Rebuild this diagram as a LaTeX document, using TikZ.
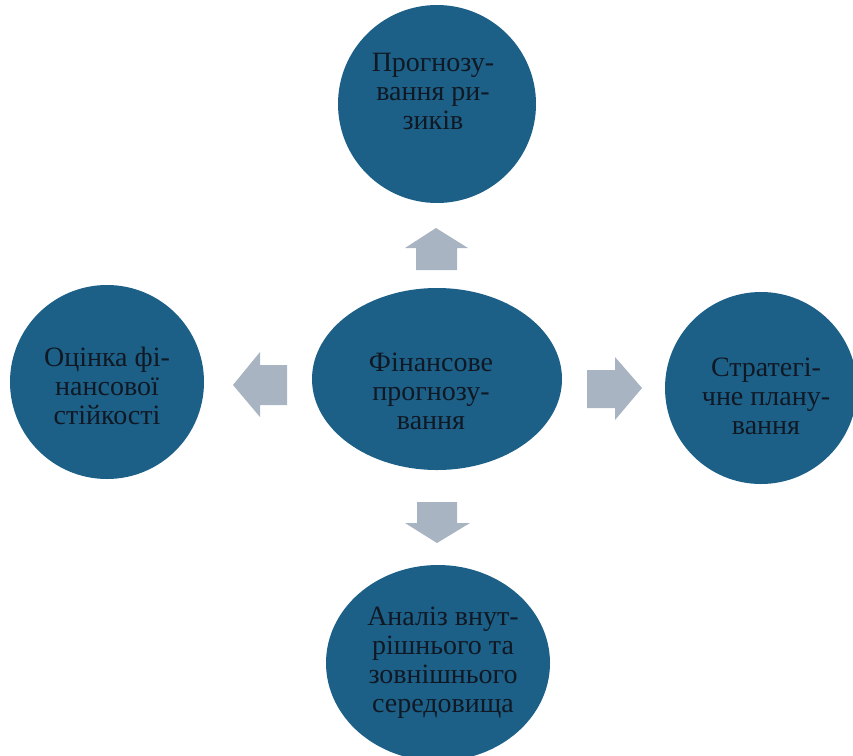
\documentclass[tikz,border=0pt]{standalone}
\usepackage{fontspec}
\setmainfont{Liberation Serif}
\usetikzlibrary{shapes.geometric}
\definecolor{discfill}{RGB}{28,96,135}
\definecolor{arrowgray}{RGB}{169,180,194}
\definecolor{txtdark}{RGB}{16,24,36}
\begin{document}
\begin{tikzpicture}[x=1pt,y=-1pt,
  disc/.style={ellipse, fill=discfill, draw=none, inner sep=0pt},
  lbl/.style={align=center, text=txtdark, font=\fontsize{28}{29}\selectfont, inner sep=0pt},
  blockarrow/.style={fill=arrowgray, draw=none}]
\useasboundingbox (0,0) rectangle (853,755);
\begin{scope}
\clip (0,0) rectangle (853,755);
% discs
\node[disc, minimum width=198pt, minimum height=198pt] (top) at (437,104) {};
\node[disc, minimum width=250pt, minimum height=182pt] (mid) at (437,379) {};
\node[disc, minimum width=194pt, minimum height=194pt] (left) at (107,382) {};
\node[disc, minimum width=192pt, minimum height=192pt] (right) at (761,388) {};
\node[disc, minimum width=224pt, minimum height=196pt] (bot) at (438,663) {};
% texts
\node[lbl] (toptxt) at (433,91) {Прогнозу-\\вання ри-\\зиків};
\node[lbl] (midtxt) at (431,391) {Фінансове\\прогнозу-\\вання};
\node[lbl] (lefttxt) at (107,386) {Оцінка фі-\\нансової\\стійкості};
\node[lbl] (righttxt) at (766,396) {Стратегі-\\чне плану-\\вання};
\node[lbl] (bottxt) at (443,663) {Аналіз внут-\\рішнього та\\зовнішнього\\середовища};
% block arrows
\fill[blockarrow] (436,228) -- (468,248) -- (457,248) -- (457,270) -- (416,270) -- (416,248) -- (405,248) -- cycle;
\fill[blockarrow] (437,543) -- (470,523) -- (457,523) -- (457,502) -- (417,502) -- (417,523) -- (405,523) -- cycle;
\fill[blockarrow] (233,385) -- (260,352) -- (260,365) -- (287,365) -- (287,405) -- (260,405) -- (260,417) -- cycle;
\fill[blockarrow] (642,388) -- (615,357) -- (615,370) -- (587,370) -- (587,408) -- (615,408) -- (615,420) -- cycle;
\end{scope}
\end{tikzpicture}
\end{document}
